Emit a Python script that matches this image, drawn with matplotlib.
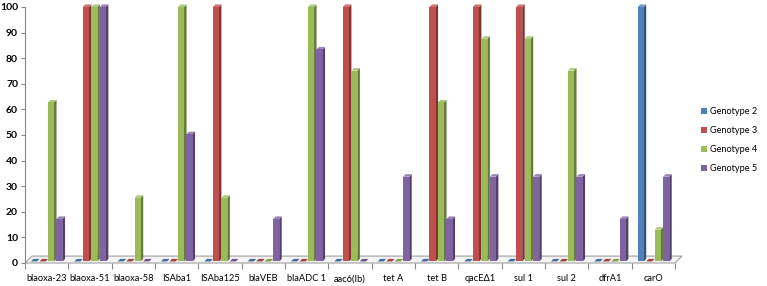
import numpy as np
import matplotlib.pyplot as plt
from matplotlib.patches import Polygon, Patch
from matplotlib.colors import to_rgb

plt.rcParams['font.family'] = ['Lato', 'DejaVu Sans']

genes = ['blaoxa-23', 'blaoxa-51', 'blaoxa-58', 'ISAba1', 'ISAba125', 'blaVEB',
         'blaADC 1', 'aac6(Ib)', 'tet A', 'tet B', 'qacE\u03941', 'sul 1', 'sul 2',
         'dfrA1', 'carO']
series = ['Genotype 2', 'Genotype 3', 'Genotype 4', 'Genotype 5']
g2 = [0, 0, 0, 0, 0, 0, 0, 0, 0, 0, 0, 0, 0, 0, 100]
g3 = [0, 100, 0, 0, 100, 0, 0, 100, 0, 100, 100, 100, 0, 0, 0]
g4 = [62.5, 100, 25, 100, 25, 0, 100, 75, 0, 62.5, 87.5, 87.5, 75, 0, 12.5]
g5 = [16.7, 100, 0, 50, 0, 16.7, 83.3, 0, 33.3, 16.7, 33.3, 33.3, 33.3, 16.7, 33.3]
colors = ['#4F81BD', '#C0504D', '#9BBB59', '#8064A2']

fig = plt.figure(figsize=(7.67, 2.86), dpi=100)
ax = fig.add_axes([25/767, 1-263/286, 650/767, 256/286])
ax.set_xlim(0, 15)
ax.set_ylim(0, 100)

# 3d look: depth offsets in data units
dx, dy = 0.058, 1.0
fdx, fdy = 0.16, 2.7
pitch, w = 0.196, 0.14

# floor
ax.add_patch(Polygon([(0, 0), (15, 0), (15 + fdx, fdy), (fdx, fdy)], closed=True,
                     facecolor='#f4f4f4', edgecolor='#a0a0a0', lw=0.8,
                     clip_on=False, zorder=1))


def shade(c, f):
    r = np.array(to_rgb(c))
    return tuple(r * f) if f < 1 else tuple(r + (1 - r) * (f - 1))


for j, vals in enumerate([g2, g3, g4, g5]):
    c = colors[j]
    for i, v in enumerate(vals):
        x0 = i + 0.5 + (j - 2) * pitch + 0.03
        x1 = x0 + w
        base = 0.6
        top = base + v * (100 - base) / 100
        z = 2 + i * 0.01
        ax.add_patch(Polygon([(x1, base), (x1 + dx, base + dy), (x1 + dx, top + dy), (x1, top)],
                             closed=True, facecolor=shade(c, 0.65), edgecolor='none',
                             clip_on=False, zorder=z))
        topc = shade(c, 1.2) if v > 0 else shade(c, 0.85)
        ax.add_patch(Polygon([(x0, top), (x1, top), (x1 + dx, top + dy), (x0 + dx, top + dy)],
                             closed=True, facecolor=topc, edgecolor='none',
                             clip_on=False, zorder=z))
        if v > 0:
            ax.add_patch(Polygon([(x0, base), (x1, base), (x1, top), (x0, top)],
                                 closed=True, facecolor=c, edgecolor='none',
                                 clip_on=False, zorder=z))

for s in ['top', 'right', 'bottom']:
    ax.spines[s].set_visible(False)
ax.spines['left'].set_color('#888888')

ax.set_yticks(np.arange(0, 101, 10))
ax.set_yticklabels([str(t) for t in range(0, 101, 10)], fontsize=7.5, fontweight='bold')
ax.set_xticks(np.arange(0, 16))
ax.set_xticklabels([])
ax.set_xticks(np.arange(15) + 0.5, minor=True)
ax.set_xticklabels(genes, minor=True, fontsize=6.7)
ax.tick_params(axis='x', which='minor', length=0, pad=8)
ax.tick_params(axis='x', which='major', length=4, color='#888888')
ax.tick_params(axis='y', length=3, color='#888888', pad=2)

handles = [Patch(facecolor=c, edgecolor='none') for c in colors]
fig.legend(handles, series, loc='center left', bbox_to_anchor=(0.914, 0.51),
           frameon=False, fontsize=6.6, handlelength=0.7, handleheight=0.7,
           handletextpad=0.3, labelspacing=1.1, borderaxespad=0, borderpad=0)

fig.savefig('out.png', dpi=100)
